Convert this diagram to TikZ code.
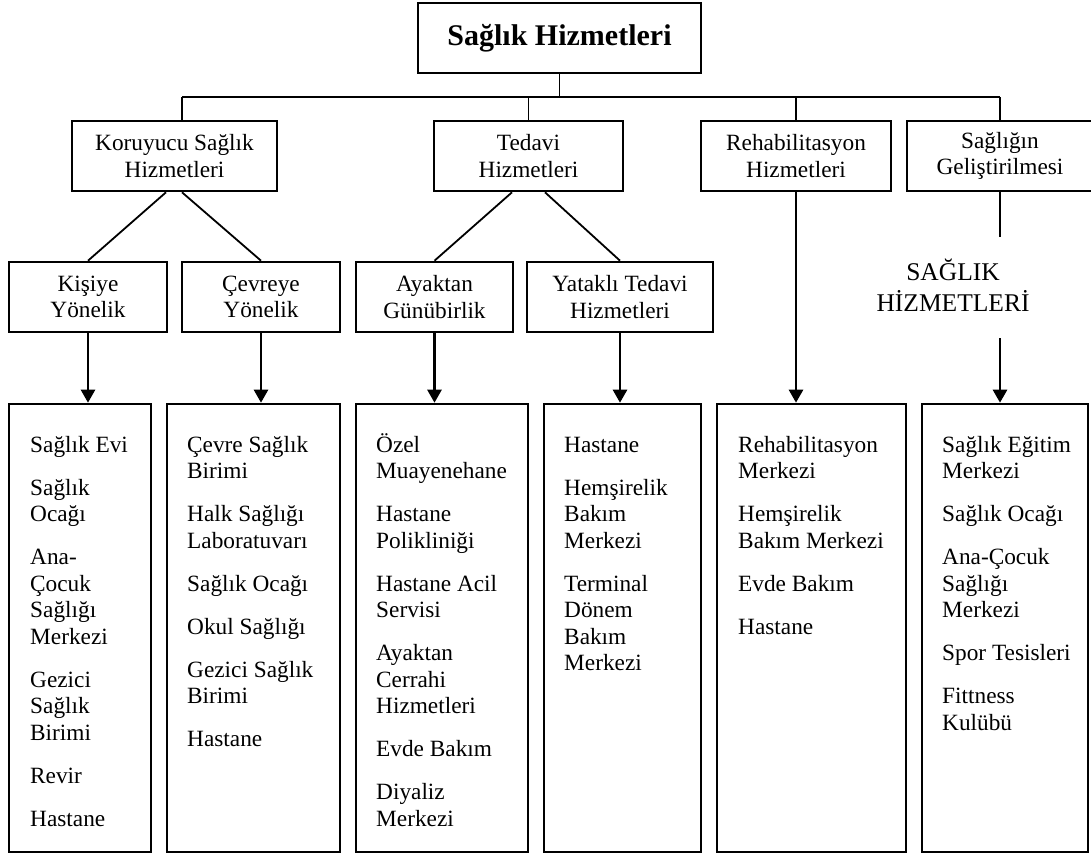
\documentclass[tikz,border=0pt]{standalone}
\usepackage{fontspec}
\setmainfont{Liberation Serif}
\usetikzlibrary{arrows.meta,calc}
\newcommand\fsmain{\fontsize{23.3}{26.5}\selectfont}
\newcommand\fstitle{\fontsize{30}{36}\selectfont\bfseries}
\newcommand\fsside{\fontsize{25.5}{31}\selectfont}
\newcommand\fl{\rule{0pt}{20pt}}
\tikzset{
  box/.style={draw, line width=2.6pt, inner sep=0pt, align=center, font=\fsmain},
  listbox/.style={draw, line width=2.6pt, inner sep=0pt, minimum height=448pt},
  listtext/.style={inner sep=0pt, align=left, font=\fsmain, anchor=north west},
  conn/.style={line width=1.8pt},
  busline/.style={line width=1.6pt},
  arr/.style={line width=2.6pt, -{Triangle[length=13pt,width=14pt]}}
}
\begin{document}
\begin{tikzpicture}[x=1pt,y=-1pt]
\useasboundingbox (0,0) rectangle (1091,854);
% top
\node[box, font=\fstitle, minimum width=283pt, minimum height=70pt] (top) at (559.5,38) {Sağlık Hizmetleri};
% level 2
\node[box, minimum width=205pt, minimum height=70pt] (kor) at (174.5,156) {Koruyucu Sağlık\\Hizmetleri};
\node[box, minimum width=189pt, minimum height=70pt] (ted) at (528.5,156) {Tedavi\\Hizmetleri};
\node[box, minimum width=190pt, minimum height=70pt] (reh) at (796,156) {Rehabilitasyon\\Hizmetleri};
\node[box, minimum width=186pt, minimum height=70pt] (sag) at (1000,156) {Sağlığın\\Geliştirilmesi};
% level 3
\node[box, minimum width=158pt, minimum height=70pt] (kis) at (88,297) {Kişiye\\Yönelik};
\node[box, minimum width=158pt, minimum height=70pt] (cev) at (261,297) {Çevreye\\Yönelik};
\node[box, minimum width=157pt, minimum height=70pt] (aya) at (434.5,297) {Ayaktan\\Günübirlik};
\node[box, minimum width=186pt, minimum height=70pt] (yat) at (620,297) {Yataklı Tedavi\\Hizmetleri};
% side label
\node[inner sep=0pt, align=center, font=\fsside] (sht) at (953,285) {SAĞLIK\\HİZMETLERİ};
% bottom boxes
\node[listbox, minimum width=142pt] (b1) at (80,628) {};
\node[listbox, minimum width=173pt] (b2) at (253.5,628) {};
\node[listbox, minimum width=172pt] (b3) at (442,628) {};
\node[listbox, minimum width=157pt] (b4) at (622.5,628) {};
\node[listbox, minimum width=189pt] (b5) at (811.5,628) {};
\node[listbox, minimum width=166pt] (b6) at (1005,628) {};
% list texts
\node[listtext] (t1) at (30,432) {\fl Sağlık Evi\\[16.5pt]Sağlık\\Ocağı\\[16.5pt]Ana-\\Çocuk\\Sağlığı\\Merkezi\\[16.5pt]Gezici\\Sağlık\\Birimi\\[16.5pt]Revir\\[16.5pt]Hastane};
\node[listtext] (t2) at (187,432) {\fl Çevre Sağlık\\Birimi\\[16.5pt]Halk Sağlığı\\Laboratuvarı\\[16.5pt]Sağlık Ocağı\\[16.5pt]Okul Sağlığı\\[16.5pt]Gezici Sağlık\\Birimi\\[16.5pt]Hastane};
\node[listtext] (t3) at (376,432) {\fl Özel\\Muayenehane\\[16.5pt]Hastane\\Polikliniği\\[16.5pt]Hastane Acil\\Servisi\\[16.5pt]Ayaktan\\Cerrahi\\Hizmetleri\\[16.5pt]Evde Bakım\\[16.5pt]Diyaliz\\Merkezi};
\node[listtext] (t4) at (564,432) {\fl Hastane\\[16.5pt]Hemşirelik\\Bakım\\Merkezi\\[16.5pt]Terminal\\Dönem\\Bakım\\Merkezi};
\node[listtext] (t5) at (738,432) {\fl Rehabilitasyon\\Merkezi\\[16.5pt]Hemşirelik\\Bakım Merkezi\\[16.5pt]Evde Bakım\\[16.5pt]Hastane};
\node[listtext] (t6) at (942,432) {\fl Sağlık Eğitim\\Merkezi\\[16.5pt]Sağlık Ocağı\\[16.5pt]Ana-Çocuk\\Sağlığı\\Merkezi\\[16.5pt]Spor Tesisleri\\[16.5pt]Fittness\\Kulübü};
% bus
\coordinate (busL) at (182,97);
\draw[conn] (top.south) -- (top.south |- busL);
\draw[busline] (busL) -- (sag.north |- busL);
\draw[busline] (busL) -- (busL |- kor.north);
\draw[busline] (ted.north |- busL) -- (ted.north);
\draw[busline] (reh.north |- busL) -- (reh.north);
\draw[busline] (sag.north |- busL) -- (sag.north);
% diagonals
\draw[conn] ([xshift=-8.5pt]kor.south) -- (kis.north);
\draw[conn] ([xshift=7.5pt]kor.south) -- (cev.north);
\draw[conn] ([xshift=-16.5pt]ted.south) -- (aya.north);
\draw[conn] ([xshift=16.5pt]ted.south) -- (yat.north);
% arrows
\draw[arr] (kis.south) -- (kis.south |- b1.north);
\draw[arr] (cev.south) -- (cev.south |- b2.north);
\draw[arr] (aya.south) -- (aya.south |- b3.north);
\draw[arr] (yat.south) -- (yat.south |- b4.north);
\draw[arr] (reh.south) -- (reh.south |- b5.north);
\coordinate (sg1) at (1000,237);
\coordinate (sg2) at (1000,338);
\draw[line width=2.6pt] (sag.south) -- (sg1);
\draw[arr] (sg2) -- (sg2 |- b6.north);
\end{tikzpicture}
\end{document}
